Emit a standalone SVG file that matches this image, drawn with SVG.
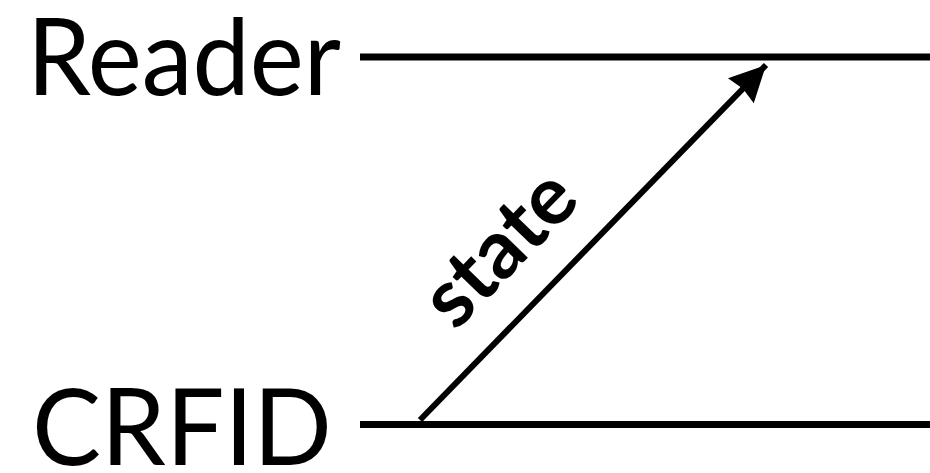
<svg xmlns="http://www.w3.org/2000/svg" width="930" height="473" viewBox="0 0 930 473">
<style>
.lbl{font-family:Lato,"Noto Sans",sans-serif;fill:#000}
.big{font-size:106px}
.ln{stroke:#000;stroke-width:7;fill:none}
.ar{stroke:#000;stroke-width:6;fill:none}
</style>
<defs>
<marker id="ah" markerUnits="userSpaceOnUse" markerWidth="40" markerHeight="40" refX="38" refY="20" orient="auto" viewBox="0 0 40 40">
<path d="M2,2 L38,20 L2,38 L5,20 Z" fill="#000"/>
</marker>
</defs>
<rect width="930" height="473" fill="#fff"/>
<g id="reader">
<text class="lbl big" x="27" y="95" textLength="314" lengthAdjust="spacingAndGlyphs">Reader</text>
</g>
<g id="crfid">
<text class="lbl big" x="32" y="465" textLength="300" lengthAdjust="spacingAndGlyphs">CRFID</text>
</g>
<g id="connectors">
<line class="ln" x1="360" y1="57" x2="930" y2="57"/>
<line class="ln" x1="360" y1="424.5" x2="930" y2="424.5"/>
<line class="ar" x1="420" y1="420" x2="766" y2="65" marker-end="url(#ah)"/>
<text class="lbl" font-size="82" font-weight="bold" text-anchor="middle" transform="translate(519,267) rotate(-45.7)">state</text>
</g>
</svg>
